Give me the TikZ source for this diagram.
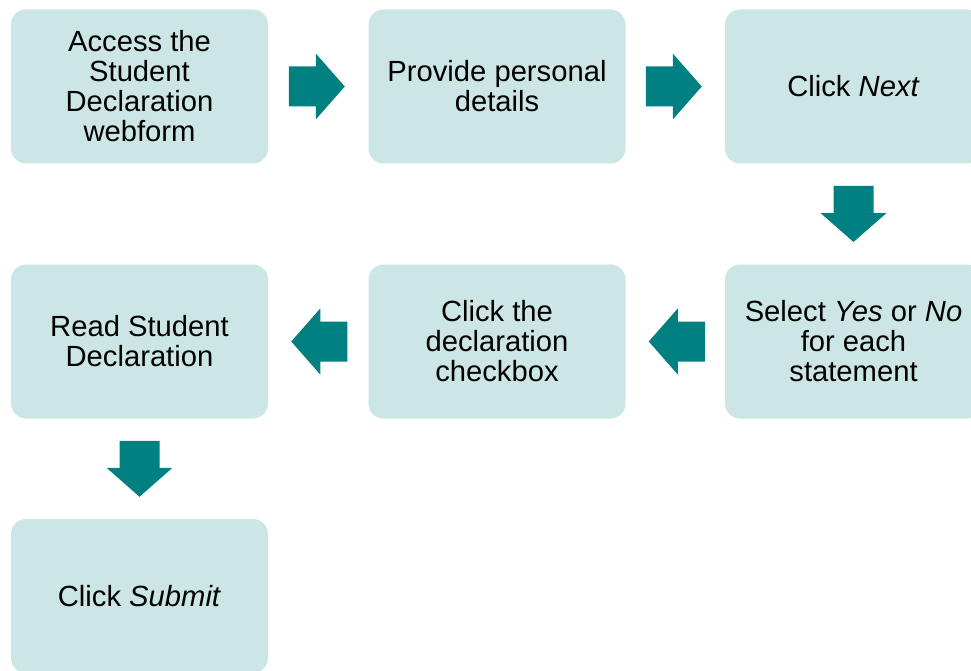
\documentclass[tikz,border=0pt]{standalone}
\usepackage{fontspec}
\setmainfont{Liberation Sans}
\usetikzlibrary{calc}
\definecolor{boxfill}{HTML}{CCE6E6}
\definecolor{arrowteal}{HTML}{008080}
\tikzset{
  stepbox/.style={fill=boxfill, draw=none, rounded corners=15pt,
    minimum width=257pt, minimum height=154pt, inner sep=0pt,
    align=center, font=\fontsize{29.2}{30}\selectfont},
  blockarrow/.pic={
    \fill[arrowteal] (-28,-20) -- (-1,-20) -- (-1,-33) -- (28,0) -- (-1,33) -- (-1,20) -- (-28,20) -- cycle;
  }
}
\begin{document}
\begin{tikzpicture}[x=1pt,y=-1pt]
\useasboundingbox (0,0) rectangle (971,671);
\clip (0,0) rectangle (971,671);
\node[stepbox] (b1) at (139.5,86.5) {Access the\\Student\\Declaration\\webform};
\node[stepbox] (b2) at (497,86.5) {Provide personal\\details};
\node[stepbox] (b3) at (853.5,86.5) {Click \textit{Next}};
\node[stepbox] (b6) at (853.5,341.5) {Select \textit{Yes} or \textit{No}\\for each\\statement};
\node[stepbox] (b5) at (497,341.5) {Click the\\declaration\\checkbox};
\node[stepbox] (b4) at (139.5,341.5) {Read Student\\Declaration};
\node[stepbox] (b7) at (139.5,596) {Click \textit{Submit}};
\coordinate (a1) at ($(b1.east)!0.5!(b2.west)+(-1.5,0)$);
\coordinate (a2) at ($(b2.east)!0.5!(b3.west)+(-1.5,0)$);
\coordinate (a3) at ($(b3.south)!0.5!(b6.north)$);
\coordinate (a4) at ($(b6.west)!0.5!(b5.east)+(1.5,0)$);
\coordinate (a5) at ($(b5.west)!0.5!(b4.east)+(1,0)$);
\coordinate (a6) at ($(b4.south)!0.5!(b7.north)$);
\pic at (a1) {blockarrow};
\pic at (a2) {blockarrow};
\pic[rotate=-90] at (a3) {blockarrow};
\pic[rotate=180] at (a4) {blockarrow};
\pic[rotate=180] at (a5) {blockarrow};
\pic[rotate=-90] at (a6) {blockarrow};
\end{tikzpicture}
\end{document}
